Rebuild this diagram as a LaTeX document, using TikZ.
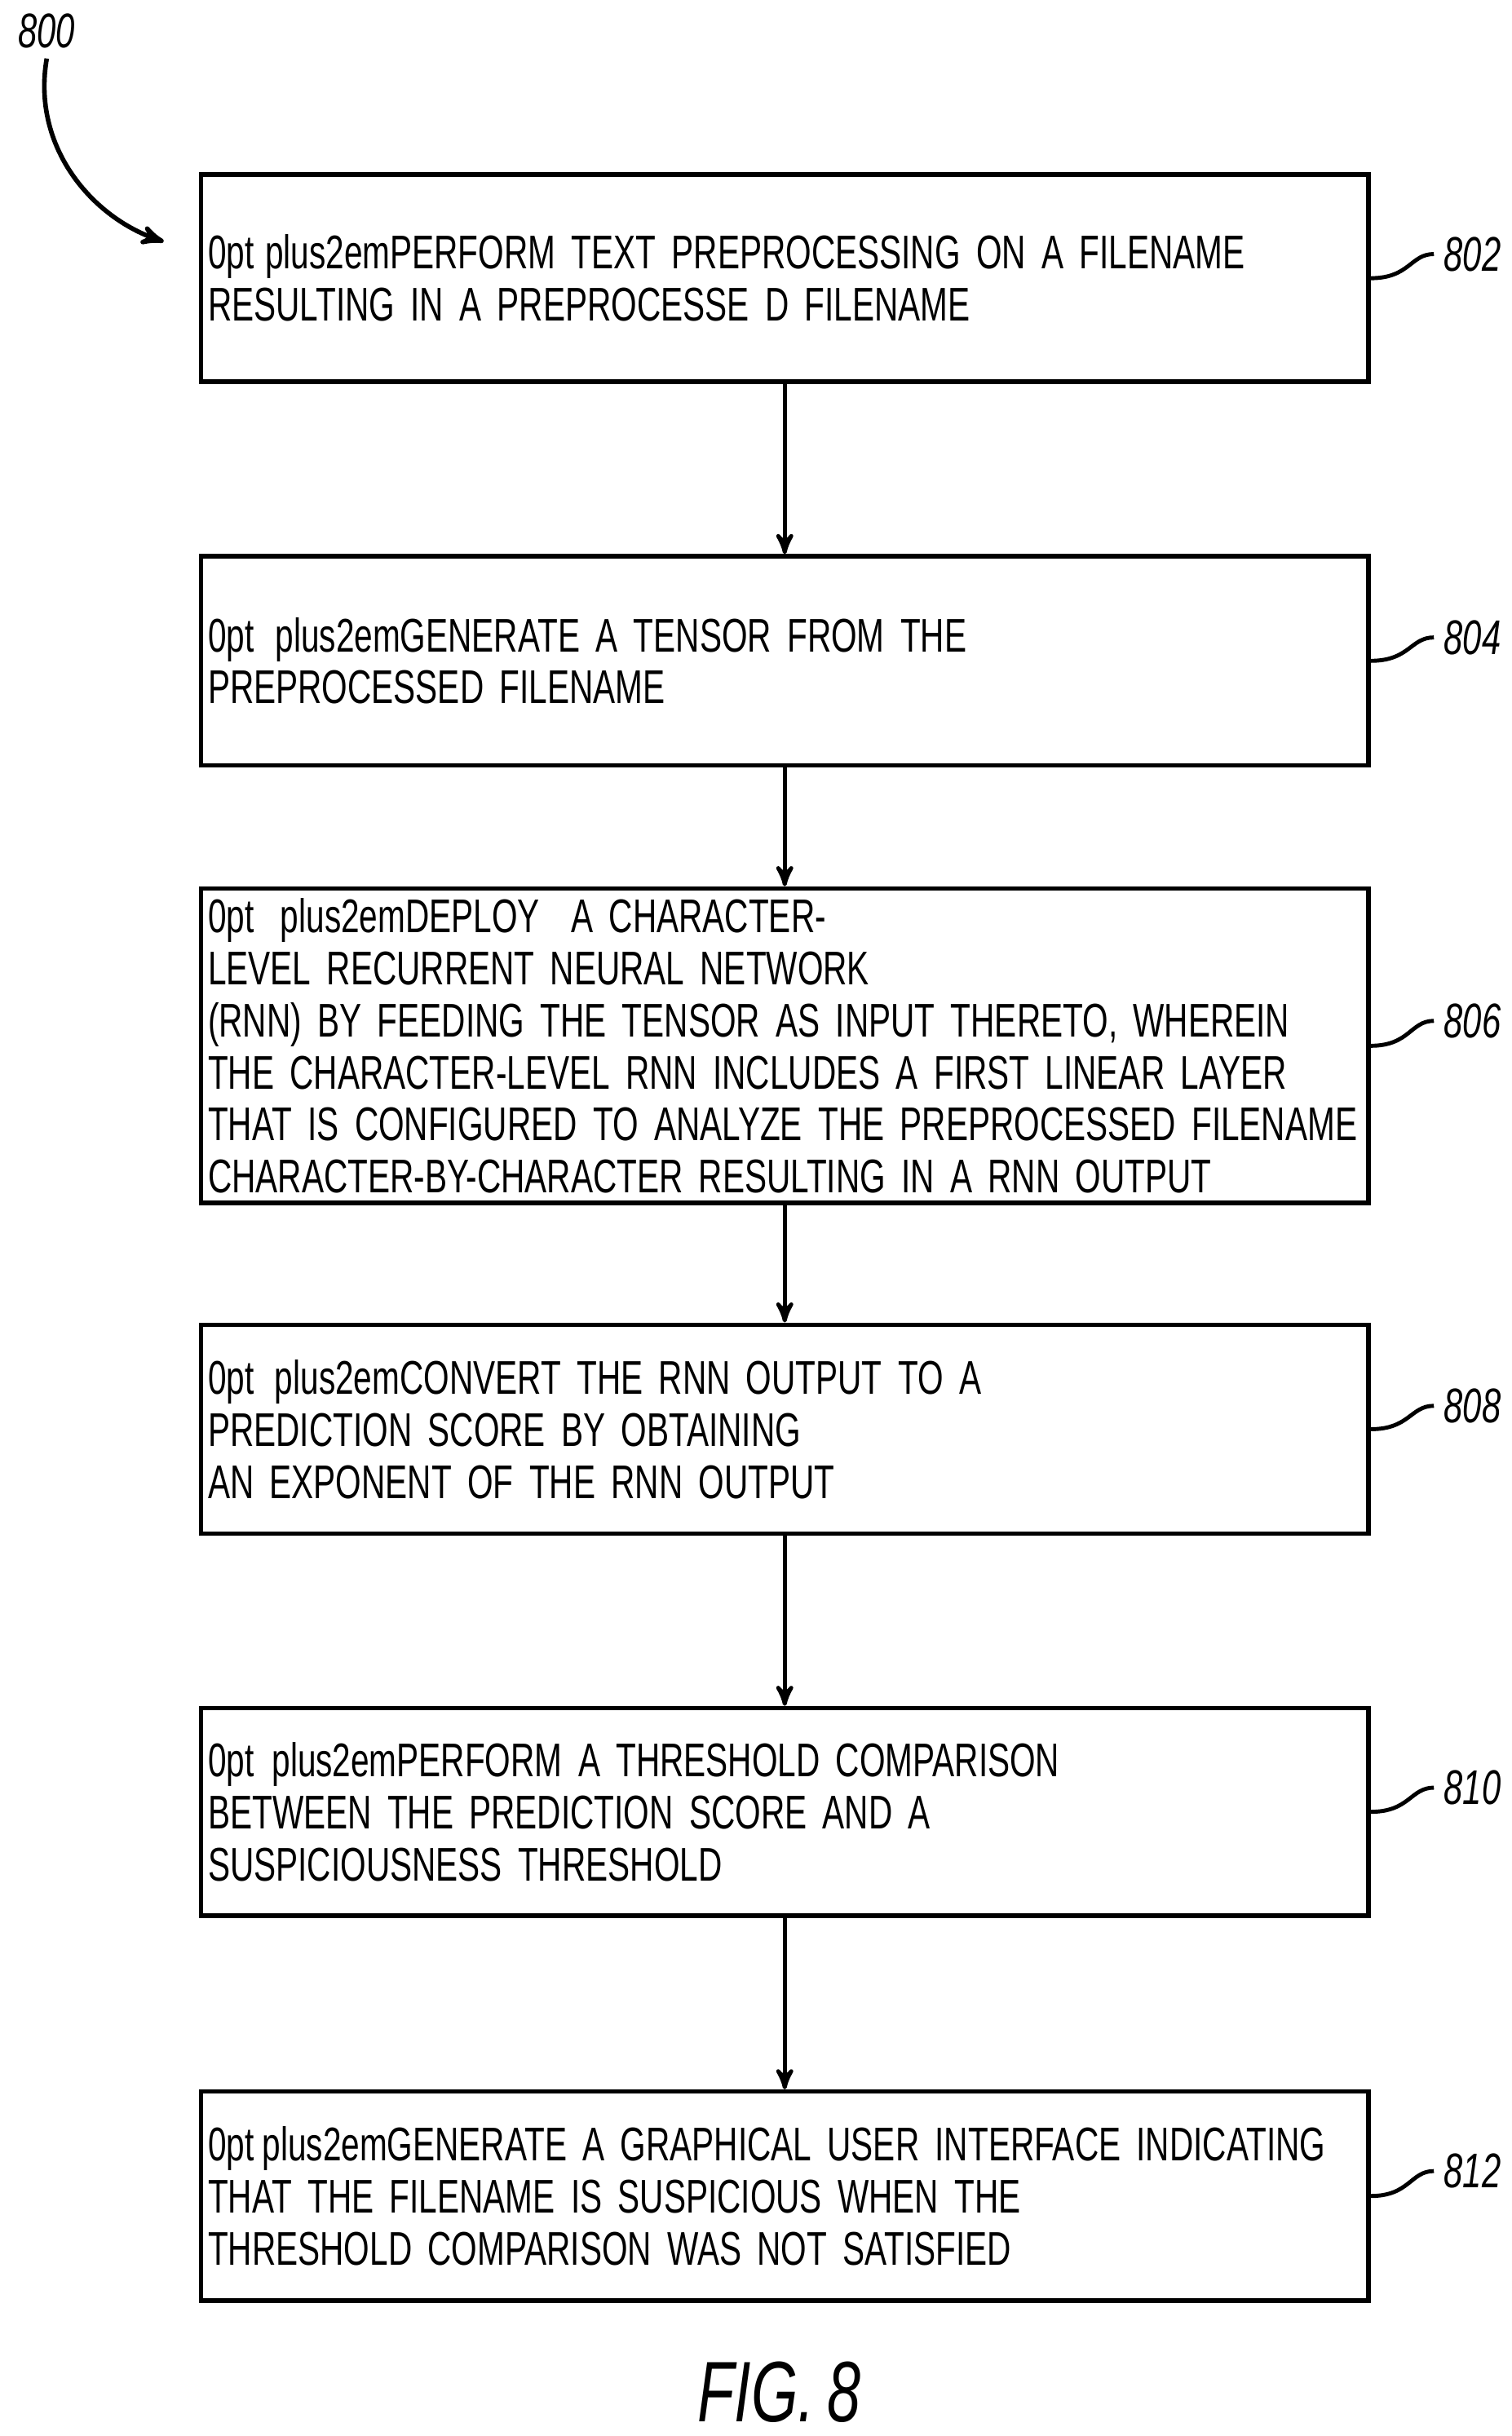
\documentclass[tikz,border=0pt]{standalone}
\usepackage{fontspec}
\setmainfont{Liberation Sans}[FakeStretch=0.7,WordSpace=0.75]
\usetikzlibrary{arrows}
\usetikzlibrary{calc}
\begin{document}
\begin{tikzpicture}[x=0.01912cm,y=-0.01912cm,>=stealth',
	stepbox/.style={draw,line width=1.6pt,minimum width=749*0.01912cm,text width=740*0.01912cm,inner xsep=2pt,align=center,font=\fontsize{16.5}{18.2}\selectfont\hyphenpenalty=10000},
	num/.style={font=\fontsize{17}{18}\selectfont\itshape,anchor=west}]
			\useasboundingbox(0,0)rectangle(970,1563);
			\node[stepbox,minimum height=133*0.01912cm](s802)at(503.5,178.5){PERFORM TEXT PREPROCESSING ON A FILENAME\\RESULTING IN A PREPROCESSE D FILENAME};
			\node[stepbox,minimum height=134*0.01912cm](s804)at(503.5,424){GENERATE A TENSOR FROM THE\\PREPROCESSED FILENAME};
			\node[stepbox,minimum height=180*0.01912cm](s806)at(503.5,671){DEPLOY\ \ A CHARACTER-LEVEL RECURRENT NEURAL NETWORK\\(RNN) BY FEEDING THE TENSOR AS INPUT THERETO, WHEREIN\\THE CHARACTER-LEVEL RNN INCLUDES A FIRST LINEAR LAYER\\THAT IS CONFIGURED TO ANALYZE THE PREPROCESSED FILENAME\\CHARACTER-BY-CHARACTER RESULTING IN A RNN OUTPUT};
			\node[stepbox,minimum height=134*0.01912cm](s808)at(503.5,917){CONVERT THE RNN OUTPUT TO A\\PREDICTION SCORE BY OBTAINING\\AN EXPONENT OF THE RNN OUTPUT};
			\node[stepbox,minimum height=133*0.01912cm](s810)at(503.5,1162.5){PERFORM A THRESHOLD COMPARISON\\BETWEEN THE PREDICTION SCORE AND A\\SUSPICIOUSNESS THRESHOLD};
			\node[stepbox,minimum height=134*0.01912cm](s812)at(503.5,1409){GENERATE A GRAPHICAL USER INTERFACE INDICATING\\THAT THE FILENAME IS SUSPICIOUS WHEN THE\\THRESHOLD COMPARISON WAS NOT SATISFIED};
			% arrows between steps
			\foreach \a/\b in {s802/s804,s804/s806,s806/s808,s808/s810,s810/s812}
				\draw[->,line width=1.4pt](\a)--(\b);
			% reference numerals
			\foreach \n/\y in {802/163,804/409,806/655,808/902,810/1147,812/1393}{
				\node[num](l\n)at(920,\y){\n};
				\draw[line width=1.4pt](s\n.east)..controls($(s\n.east)+(25,0)$)and($(l\n.west)+(-15,0)$)..(l\n.west);
			}
			\node[font=\fontsize{17}{18}\selectfont\itshape](l800)at(30,20){800};
			\coordinate(t800)at(105,155);
			\draw[->,line width=1.6pt](l800.south)..controls(20,95)and(60,140)..(t800);
			\node[font=\fontsize{30}{32}\selectfont\itshape](fig)at(500,1535){FIG. 8};
		\end{tikzpicture}
\end{document}
